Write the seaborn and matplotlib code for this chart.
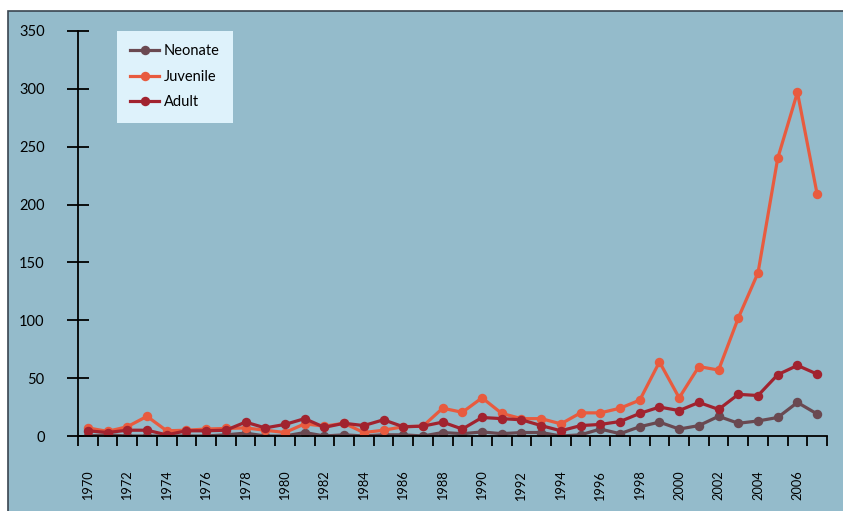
import numpy as np
import pandas as pd
import matplotlib
matplotlib.use('Agg')
import matplotlib.pyplot as plt
import seaborn as sns
from matplotlib.patches import Rectangle

# Data
years = list(range(1970, 2008))
neonate = [0, 1, 0, 0, 0, 0, 0, 1, 2.5, 0, 0, 3,
           0, 1, 0, 1, 1, 0, 3, 2, 3.5, 2, 3, 3,
           0, 1, 6, 2, 8, 12, 6, 9, 17, 11, 13, 16, 29, 19]
juvenile = [7, 4, 8, 17, 4.5, 5, 6, 6.5, 7, 5, 3, 10.5,
            8.5, 11, 3, 5, 8, 8.5, 24, 20.5, 33, 19.5, 15, 15,
            10.5, 20, 20, 24, 31, 64, 33, 60, 57, 102, 141, 240, 297, 209]
adult = [4.5, 3, 5, 5, 1, 4.5, 4.5, 5, 12, 7, 10, 15,
         7.5, 11, 9, 14, 8, 8.5, 12, 6, 16, 15, 14, 9,
         4.5, 9, 10, 12.5, 19.5, 25, 22, 29, 23, 36, 35, 53, 61, 53.5]
y_ticks = [0, 50, 100, 150, 200, 250, 300, 350]

df = pd.DataFrame({'pos': np.arange(len(years)), 'year': years,
                   'Neonate': neonate, 'Juvenile': juvenile, 'Adult': adult})
long_df = df.melt(id_vars=['pos', 'year'], var_name='stage', value_name='count')

colors = {'Neonate': '#6a4951', 'Juvenile': '#e85b3f', 'Adult': '#a1232f'}
bg = '#94bbcb'

plt.rcParams['font.family'] = ['Lato', 'DejaVu Sans']

fig = plt.figure(figsize=(8.43, 5.11), dpi=100, facecolor='white')
# blue panel with a thin dark edge on top and left
fig.patches.append(Rectangle((8 / 843, -0.1), 1.2, 1.1 - 10.5 / 511,
                             transform=fig.transFigure, facecolor=bg,
                             edgecolor='#3a4550', linewidth=1.2, zorder=-10))

ax = fig.add_axes([78 / 843, 1 - 436 / 511, (827 - 78) / 843, (436 - 31) / 511])
ax.set_facecolor('none')

sns.lineplot(data=long_df, x='pos', y='count', hue='stage',
             hue_order=['Neonate', 'Juvenile', 'Adult'], palette=colors,
             marker='o', markersize=6.8, markeredgewidth=0, linewidth=2.3,
             ax=ax)

ax.set_xlim(-0.5, len(years) - 0.5)
ax.set_ylim(0, 350)
ax.set_xlabel('')
ax.set_ylabel('')

for side in ['top', 'right']:
    ax.spines[side].set_visible(False)
for side in ['left', 'bottom']:
    ax.spines[side].set_color('black')
    ax.spines[side].set_linewidth(1.3)

ax.set_yticks(y_ticks)
ax.set_yticklabels([str(v) for v in y_ticks])
ax.tick_params(axis='y', direction='inout', length=16, width=1.3, pad=16,
               labelsize=10.5, colors='black')

# tick marks between categories, labels on every other year
ax.set_xticks(np.arange(-0.5, len(years)))
ax.set_xticklabels([])
ax.tick_params(axis='x', which='major', direction='out', length=7, width=1.3)
ax.set_xticks(np.arange(0, len(years), 2), minor=True)
ax.set_xticklabels([str(y) for y in years[::2]], minor=True, rotation=90)
ax.tick_params(axis='x', which='minor', length=0, pad=25, labelsize=9.2)

leg = ax.legend(loc='upper left', bbox_to_anchor=(0.052, 1.0), frameon=True,
                fancybox=False, fontsize=10.5, handlelength=2.0,
                handletextpad=0.3, labelspacing=0.8, borderpad=0.9,
                borderaxespad=0)
leg.get_frame().set_facecolor('#def2fb')
leg.get_frame().set_edgecolor('none')
leg.get_frame().set_alpha(1)

fig.savefig('out.png', dpi=100, facecolor=fig.get_facecolor())
